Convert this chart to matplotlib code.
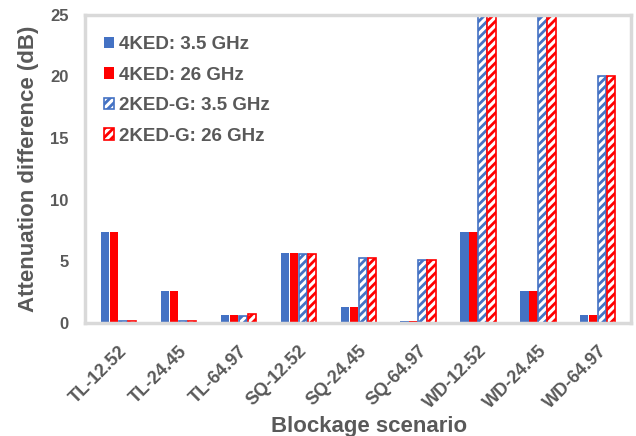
import matplotlib.pyplot as plt
import numpy as np

plt.rcParams['font.family'] = ['Liberation Sans', 'DejaVu Sans']
plt.rcParams['font.weight'] = 'bold'
plt.rcParams['hatch.linewidth'] = 2.0

scenarios = ['TL-12.52', 'TL-24.45', 'TL-64.97', 'SQ-12.52', 'SQ-24.45',
             'SQ-64.97', 'WD-12.52', 'WD-24.45', 'WD-64.97']
ked4_35 = [7.4, 2.6, 0.65, 5.7, 1.3, 0.2, 7.4, 2.6, 0.65]
ked4_26 = [7.4, 2.6, 0.65, 5.7, 1.3, 0.2, 7.4, 2.6, 0.65]
ked2g_35 = [0.2, 0.2, 0.55, 5.6, 5.3, 5.1, 30.0, 30.0, 20.0]
ked2g_26 = [0.2, 0.2, 0.75, 5.6, 5.3, 5.1, 30.0, 30.0, 20.0]

blue = '#4472c4'
red = '#ff0000'
grey = '#595959'

fig = plt.figure(figsize=(6.36, 4.36), dpi=100)
ax = fig.add_axes([0.134, 0.259, 0.858, 0.707])

x = np.arange(len(scenarios))
w = 0.135
step = 0.15
ax.bar(x - 1.5 * step, ked4_35, w, color=blue, label='4KED: 3.5 GHz')
ax.bar(x - 0.5 * step, ked4_26, w, color=red, label='4KED: 26 GHz')
ax.bar(x + 0.5 * step, ked2g_35, w, facecolor='white', edgecolor=blue,
       hatch='////', linewidth=1.2, label='2KED-G: 3.5 GHz')
ax.bar(x + 1.5 * step, ked2g_26, w, facecolor='white', edgecolor=red,
       hatch='////', linewidth=1.2, label='2KED-G: 26 GHz')

ax.set_ylim(0, 25)
ax.set_xlim(-0.55, len(scenarios) - 0.45)
ax.set_yticks([0, 5, 10, 15, 20, 25])
ax.set_xticks(x)
ax.set_xticklabels(scenarios, rotation=45, ha='right', rotation_mode='anchor')
ax.tick_params(axis='x', length=0, labelsize=13, colors=grey, pad=14)
ax.tick_params(axis='y', length=0, labelsize=12, colors=grey, pad=12)
for lab in ax.get_xticklabels() + ax.get_yticklabels():
    lab.set_fontweight('bold')

for s in ax.spines.values():
    s.set_color('#d9d9d9')
    s.set_linewidth(2.5)

ax.set_xlabel('Blockage scenario', fontsize=16, color=grey, fontweight='bold',
              labelpad=3)
ax.xaxis.label.set_x(0.521)
ax.set_ylabel('Attenuation difference (dB)', fontsize=16, color=grey,
              fontweight='bold', labelpad=8)

leg = ax.legend(loc='upper left', frameon=False, fontsize=13.5,
                handlelength=0.55, handleheight=0.55, handletextpad=0.25,
                labelspacing=0.72, borderaxespad=0,
                bbox_to_anchor=(0.02, 0.955))
for t in leg.get_texts():
    t.set_color(grey)
    t.set_fontweight('bold')

fig.savefig('out.png', dpi=100)
